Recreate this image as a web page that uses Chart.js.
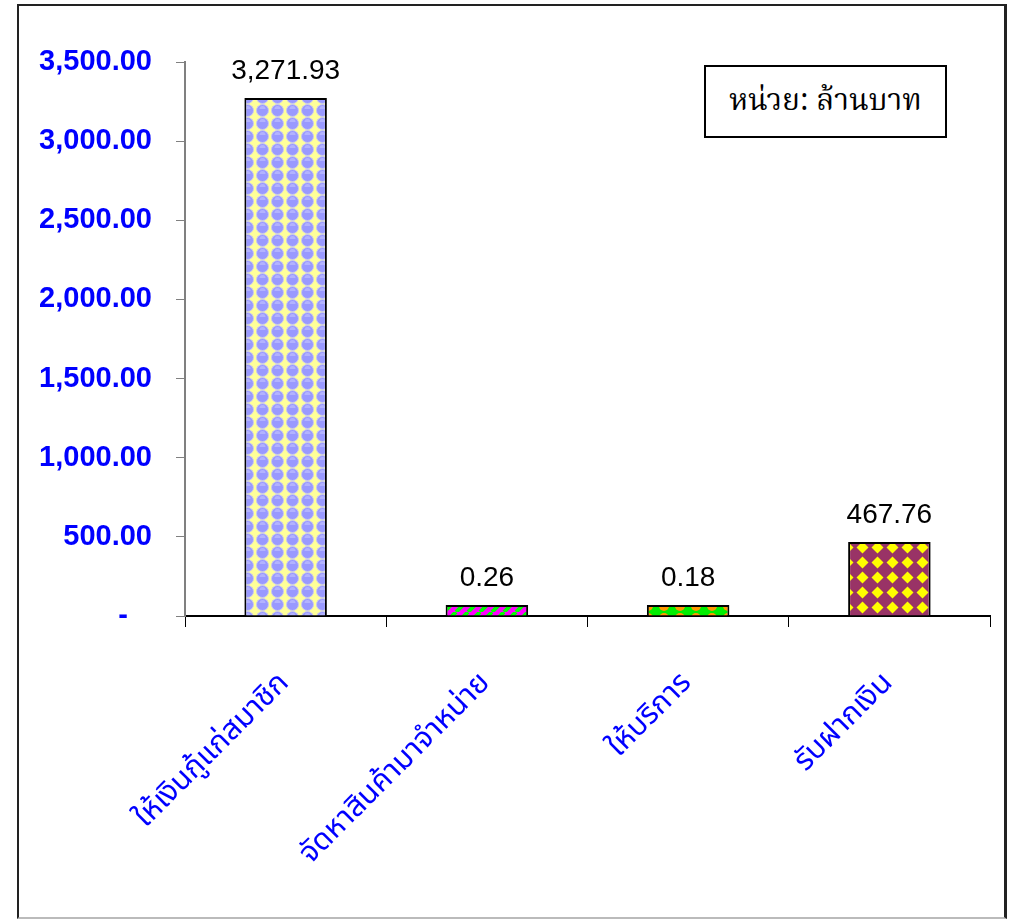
<!DOCTYPE html>
<html>
<head>
<meta charset="utf-8">
<script src="https://cdn.jsdelivr.net/npm/chart.js@4.4.1/dist/chart.umd.min.js"></script>
<style>
  html, body { margin: 0; padding: 0; background: #fff; }
  #wrap { position: relative; width: 1015px; height: 919px; overflow: hidden; }
  #frame {
    position: absolute; left: 17px; top: 4px; width: 990px; height: 915px;
    box-sizing: border-box;
    border-left: 2px solid #222; border-top: 2px solid #222;
    border-right: 3px solid #222; border-bottom: 2px solid #bbb;
  }
  #chart { position: absolute; left: 0; top: 0; }
  #unit {
    position: absolute; left: 704px; top: 65px; width: 243px; height: 73px;
    box-sizing: border-box; border: 2px solid #000; background: #fff;
    display: flex; align-items: center; justify-content: center;
    font-family: "Noto Serif Thai", "Tlwg Typo", "Norasi", "Noto Sans Thai", serif;
    font-size: 30px; color: #000;
  }
</style>
</head>
<body>
<div id="wrap">
  <div id="frame"></div>
  <canvas id="chart" width="1015" height="919"></canvas>
  <div id="unit">หน่วย: ล้านบาท</div>
</div>
<script>
// data
const categories = ["ให้เงินกู้แก่สมาชิก", "จัดหาสินค้ามาจำหน่าย", "ให้บริการ", "รับฝากเงิน"];
const amounts = [3271.93, 0.26, 0.18, 467.76];
const yTicks = [0, 500, 1000, 1500, 2000, 2500, 3000, 3500];

const narrow = '"Liberation Sans Narrow", "Arial Narrow", "Liberation Sans", sans-serif';
const thai = '"Noto Sans Thai", "Loma", "Garuda", "Tlwg Typist", sans-serif';

function fmt(v) {
  return v.toLocaleString("en-US", { minimumFractionDigits: 2, maximumFractionDigits: 2 });
}

function makePattern(w, h, draw) {
  const c = document.createElement("canvas");
  c.width = w;
  c.height = h;
  const g = c.getContext("2d");
  draw(g, w, h);
  return g.createPattern(c, "repeat");
}

// lavender bubbles on pale yellow
const bubbles = makePattern(15, 13, (g, w, h) => {
  g.fillStyle = "#ffff99";
  g.fillRect(0, 0, w, h);
  g.fillStyle = "#9999ff";
  g.beginPath();
  g.arc(7.5, 6.5, 6, 0, Math.PI * 2);
  g.fill();
  g.strokeStyle = "#c8c8ee";
  g.lineWidth = 1;
  g.beginPath();
  g.arc(7.5, 6.5, 6, 0, Math.PI * 2);
  g.stroke();
  g.fillStyle = "#b3b3ff";
  g.beginPath();
  g.arc(7.5, 5, 3, Math.PI, 0);
  g.fill();
});

// magenta / green diagonal stripes
const stripes = makePattern(12, 12, (g, w, h) => {
  g.fillStyle = "#ff00ff";
  g.fillRect(0, 0, w, h);
  g.strokeStyle = "#00ff00";
  g.lineWidth = 4;
  for (let k = -1; k <= 1; k += 1) {
    g.beginPath();
    g.moveTo(k * w, h);
    g.lineTo(k * w + w, 0);
    g.stroke();
  }
});

// orange dots on green
const dots = makePattern(16, 12, (g, w, h) => {
  g.fillStyle = "#00ee00";
  g.fillRect(0, 0, w, h);
  g.fillStyle = "#ff9900";
  g.beginPath();
  g.arc(8, 6, 5, 0, Math.PI * 2);
  g.fill();
});

// yellow diamonds on plum
const diamonds = makePattern(15, 15, (g, w, h) => {
  g.fillStyle = "#993366";
  g.fillRect(0, 0, w, h);
  g.fillStyle = "#ffff00";
  g.beginPath();
  g.moveTo(7.5, 1.5);
  g.lineTo(13.5, 7.5);
  g.lineTo(7.5, 13.5);
  g.lineTo(1.5, 7.5);
  g.closePath();
  g.fill();
});

const valueLabels = {
  id: "valueLabels",
  afterDatasetsDraw(chart) {
    const { ctx } = chart;
    const meta = chart.getDatasetMeta(0);
    ctx.save();
    ctx.font = "28px " + narrow;
    ctx.fillStyle = "#000";
    ctx.textAlign = "center";
    ctx.textBaseline = "alphabetic";
    meta.data.forEach((bar, i) => {
      ctx.fillText(fmt(amounts[i]), bar.x, bar.y - 19);
    });
    ctx.restore();
  },
};

new Chart(document.getElementById("chart"), {
  type: "bar",
  data: {
    labels: categories,
    datasets: [
      {
        data: amounts,
        backgroundColor: [bubbles, stripes, dots, diamonds],
        borderColor: "#000",
        borderWidth: 2,
        borderSkipped: "bottom",
        minBarLength: 11,
        categoryPercentage: 1,
        barPercentage: 0.41,
      },
    ],
  },
  options: {
    responsive: false,
    animation: false,
    layout: { padding: { top: 62, right: 25, bottom: 3, left: 0 } },
    plugins: {
      legend: { display: false },
      tooltip: { enabled: false },
    },
    scales: {
      x: {
        afterFit: (scale) => { scale.height = 300; },
        grid: {
          display: true,
          drawOnChartArea: false,
          drawTicks: true,
          tickLength: 11,
          color: "#000",
          offset: true,
        },
        border: { display: true, color: "#000", width: 2 },
        ticks: {
          color: "#0000ff",
          font: { family: thai, size: 30 },
          minRotation: 45,
          maxRotation: 45,
          autoSkip: false,
          padding: 40,
        },
      },
      y: {
        min: 0,
        max: 3500,
        afterFit: (scale) => { scale.width = 185; },
        afterBuildTicks: (scale) => {
          scale.ticks = yTicks.map((v) => ({ value: v }));
        },
        grid: {
          display: true,
          drawOnChartArea: false,
          drawTicks: true,
          tickLength: 9,
          color: "#808080",
        },
        border: { display: true, color: "#808080", width: 2 },
        ticks: {
          color: "#0000ff",
          font: { family: narrow, size: 29, weight: "bold" },
          padding: 24,
          callback: (v) => (v === 0 ? "-   " : fmt(v)),
        },
      },
    },
  },
  plugins: [valueLabels],
});
</script>
</body>
</html>
